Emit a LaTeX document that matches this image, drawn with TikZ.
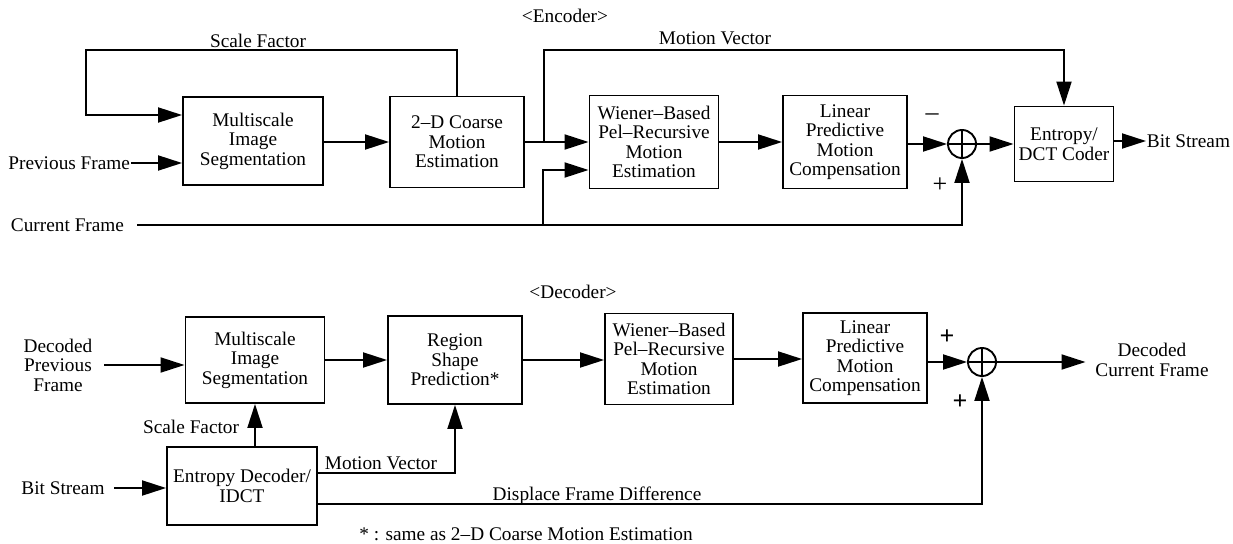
\documentclass[tikz,border=0pt]{standalone}
\usepackage{fontspec}
\setmainfont{Liberation Serif}
\usetikzlibrary{positioning,arrows.meta}

\begin{document}
\begin{tikzpicture}[x=1pt,y=-1pt,
    font=\fontsize{19.3}{19.5}\selectfont,
    line width=1.9pt,
    blk/.style={draw, align=center, inner sep=0pt},
    arr/.style={-{Triangle[length=24pt,width=15pt]}},
    sumnode/.style={draw, circle, minimum size=28pt, inner sep=0pt,
      path picture={\draw (path picture bounding box.north) -- (path picture bounding box.south)
        (path picture bounding box.west) -- (path picture bounding box.east);}},
    lbl/.style={inner sep=0pt},
    sgn/.style={inner sep=0pt, font=\fontsize{26}{26}\selectfont}]
\useasboundingbox (0,0) rectangle (1233,543);

% encoder
\node[lbl] (enc) at (565,16) {<Encoder>};
\node[blk, minimum width=140pt, minimum height=88pt] (ms) at (253,141) {Multiscale\\Image\\Segmentation};
\node[blk, minimum width=134pt, minimum height=91pt] (cme) at (457,142) {2--D Coarse\\Motion\\Estimation};
\node[blk, minimum width=129pt, minimum height=93pt] (wpr) at (654,142) {Wiener--Based\\Pel--Recursive\\Motion\\Estimation};
\node[blk, minimum width=124pt, minimum height=93pt] (lpc) at (845,142) {Linear\\Predictive\\Motion\\Compensation};
\node[sumnode] (sum) at (962,144) {};
\node[blk, minimum width=99pt, minimum height=75pt] (ent) at (1064,144) {Entropy/\\DCT Coder};
\node[lbl, anchor=west] (bso) at (1146,141) {Bit Stream};
\node[lbl, anchor=east] (prev) at (131,163) {Previous Frame};
\node[lbl, anchor=east] (cur) at (125,225) {Current Frame};
\node[lbl] (sf) at (258,41) {Scale Factor};
\node[lbl] (mv) at (715,38) {Motion Vector};
\node[sgn] (minus) at (932,117) {--};
\node[sgn] (plus) at (940,185) {+};

\coordinate (mvb) at (544,142);
\coordinate (cfs) at (137,225);
\coordinate (cfb) at (543,225);

\draw[arr] (cme.north) |- (86,50) |- ([yshift=26pt]ms.west);
\draw[arr] (prev.east) -- (prev.east -| ms.west);
\draw[arr] (ms.east |- cme) -- (cme.west);
\draw[arr] (cme.east) -- (wpr.west);
\draw[arr] (mvb) -- (mvb |- 0,50) -| (ent.north);
\draw[arr] (cfs) -| (sum.south);
\draw[arr] (cfb) |- ([yshift=-28pt]wpr.west);
\draw[arr] (wpr.east) -- (lpc.west);
\draw[arr] (lpc.east |- sum) -- (sum.west);
\draw[arr] (sum.east) -- (ent.west);
\draw[arr] (ent.east |- bso.west) -- (bso.west);

% decoder
\node[lbl] (dec) at (573,292) {<Decoder>};
\node[blk, minimum width=139pt, minimum height=86pt] (dms) at (255,360) {Multiscale\\Image\\Segmentation};
\node[blk, minimum width=134pt, minimum height=88pt] (rsp) at (455,360) {Region\\Shape\\Prediction*};
\node[blk, minimum width=128pt, minimum height=91pt] (dwpr) at (669,359) {Wiener--Based\\Pel--Recursive\\Motion\\Estimation};
\node[blk, minimum width=124pt, minimum height=90pt] (dlpc) at (865,358) {Linear\\Predictive\\Motion\\Compensation};
\node[sumnode] (dsum) at (982,362) {};
\node[align=center, inner xsep=9pt] (dcf) at (1152,360) {Decoded\\Current Frame};
\node[blk, minimum width=150pt, minimum height=78pt] (edc) at (242,486) {Entropy Decoder/\\IDCT};
\node[align=center, inner xsep=11pt] (dpf) at (58,365) {Decoded\\Previous\\Frame};
\node[inner xsep=9pt] (dbs) at (63,488) {Bit Stream};
\node[lbl, anchor=east] (dsf) at (240,427) {Scale Factor};
\node[lbl] (dmv) at (381,463) {Motion Vector};
\node[lbl] (dfd) at (597,496) {Displace Frame Difference};
\node[sgn] (dplus1) at (947,337) {\textbf{+}};
\node[sgn] (dplus2) at (960,402) {\textbf{+}};
\node[lbl] (note) at (526,534) {* : same as 2--D Coarse Motion Estimation};

\draw[arr] (dpf.east) -- (dpf.east -| dms.west);
\draw[arr] (dms.east) -- (rsp.west);
\draw[arr] (rsp.east) -- (rsp.east -| dwpr.west);
\draw[arr] (dwpr.east) -- (dwpr.east -| dlpc.west);
\draw[arr] (dlpc.east |- dsum) -- (dsum.west);
\draw[arr] (dsum.east) -- (dsum -| dcf.west);
\draw[arr] (dbs.east) -- (dbs.east -| edc.west);
\draw[arr] (dms.south |- edc.north) -- (dms.south);
\draw[arr] ([yshift=13pt]edc.east) -| (rsp.south);
\draw[arr] ([yshift=-18pt]edc.east) -| (dsum.south);
\end{tikzpicture}
\end{document}
